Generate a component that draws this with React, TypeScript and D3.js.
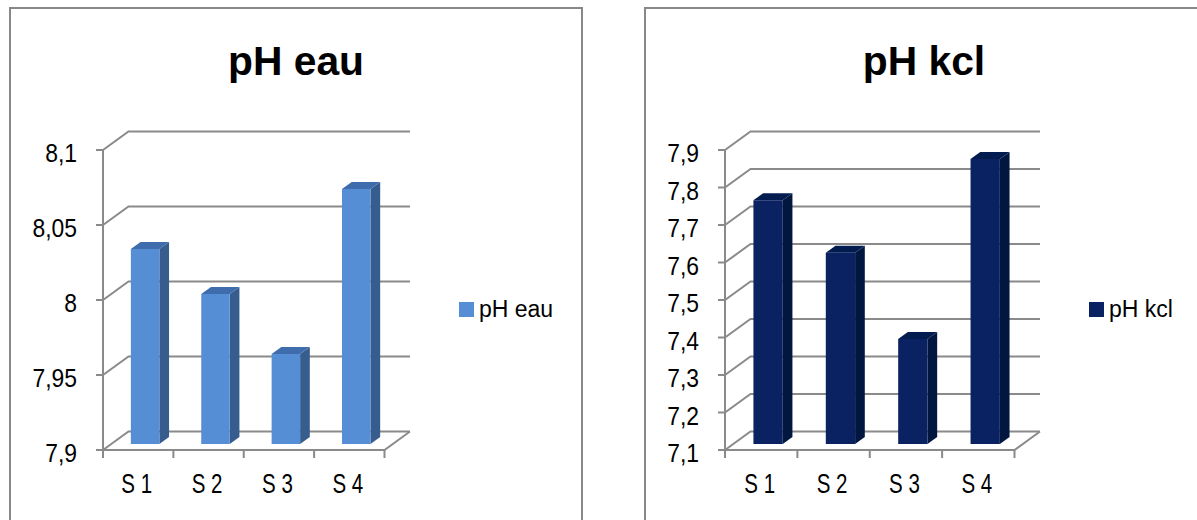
import React from "react";
import * as d3 from "d3";

// Sample sites shared by both charts
const categories = ["S 1", "S 2", "S 3", "S 4"];

// pH measured in water
const phEauValues = [8.03, 8.0, 7.96, 8.07];
const phEauTicks = [7.9, 7.95, 8.0, 8.05, 8.1];

// pH measured in KCl solution
const phKclValues = [7.75, 7.61, 7.38, 7.86];
const phKclTicks = [7.1, 7.2, 7.3, 7.4, 7.5, 7.6, 7.7, 7.8, 7.9];

const fmt = (v: number) => {
  const s = String(+v.toFixed(2));
  return s.replace(".", ",");
};

const FONT = "'Liberation Sans', Arial, sans-serif";
const GRID = "#8a8a8a";
const DX = 25.5; // depth offset of the back wall
const DY = 18.5;
const Z1 = 0.32; // bar front face depth
const Z2 = 0.7; // bar back face depth

type ChartProps = {
  title: string;
  legend: string;
  values: number[];
  ticks: number[];
  domain: [number, number];
  boxX: number;
  boxW: number;
  axisX: number;
  plotW: number;
  legendX: number;
  front: string;
  side: string;
  top: string;
};

function Bar3DChart(p: ChartProps) {
  const yTop = 150;
  const yBot = 450;
  const y = d3.scaleLinear().domain(p.domain).range([yBot, yTop]);
  const x = d3
    .scaleBand<string>()
    .domain(categories)
    .range([p.axisX, p.axisX + p.plotW])
    .padding(0);
  const step = x.step();
  const x1 = p.axisX + p.plotW;
  const barW = step * 0.405;
  const pt = (px: number, py: number, z: number) => [px + z * DX, py - z * DY];
  const poly = (pts: number[][]) => pts.map((q) => q.join(",")).join(" ");
  const boundaries = d3.range(categories.length + 1).map((i) => p.axisX + i * step);

  return (
    <g>
      <rect x={p.boxX} y={8} width={p.boxW} height={540} fill="#fff" stroke="#888" strokeWidth={2} />
      <text
        transform={`translate(${p.boxX + p.boxW / 2},75) scale(1.02,1)`}
        textAnchor="middle"
        fontFamily={FONT}
        fontWeight="bold"
        fontSize={40}
        fill="#000"
      >
        {p.title}
      </text>

      {/* gridlines: tick, wall diagonal and back wall line */}
      {p.ticks.map((t) => {
        const yy = y(t);
        const [bx, by] = pt(p.axisX, yy, 1);
        const [ex] = pt(x1, yy, 1);
        return (
          <g key={t}>
            <line x1={p.axisX - 7} y1={yy} x2={p.axisX} y2={yy} stroke={GRID} strokeWidth={2} />
            <polyline points={poly([[p.axisX, yy], [bx, by], [ex, by]])} fill="none" stroke={GRID} strokeWidth={2} />
            <text
              transform={`translate(${p.axisX - 26},${yy + 12}) scale(0.88,1)`}
              textAnchor="end"
              fontFamily={FONT}
              fontSize={26}
              fill="#000"
            >
              {fmt(t)}
            </text>
          </g>
        );
      })}

      {/* vertical value axis and floor */}
      <line x1={p.axisX} y1={yTop} x2={p.axisX} y2={yBot} stroke={GRID} strokeWidth={2} />
      <polyline
        points={poly([[p.axisX, yBot], [x1, yBot], pt(x1, yBot, 1)])}
        fill="none"
        stroke={GRID}
        strokeWidth={2}
      />
      {boundaries.map((bx, i) => (
        <line key={i} x1={bx} y1={yBot} x2={bx} y2={yBot + 8} stroke={GRID} strokeWidth={2} />
      ))}

      {/* bars */}
      {categories.map((c, i) => {
        const l = (x(c) as number) + step * 0.28;
        const r = l + barW;
        const vy = y(p.values[i]);
        const fTL = pt(l, vy, Z1);
        const fTR = pt(r, vy, Z1);
        const fBR = pt(r, yBot, Z1);
        const fBL = pt(l, yBot, Z1);
        const bTL = pt(l, vy, Z2);
        const bTR = pt(r, vy, Z2);
        const bBR = pt(r, yBot, Z2);
        return (
          <g key={c}>
            <polygon points={poly([fTR, bTR, bBR, fBR])} fill={p.side} />
            <polygon points={poly([fTL, bTL, bTR, fTR])} fill={p.top} />
            <polygon points={poly([fTL, fTR, fBR, fBL])} fill={p.front} />
          </g>
        );
      })}

      {/* category labels */}
      {categories.map((c) => {
        const cx = (x(c) as number) + step / 2 - 1.5;
        return (
          <text
            key={c}
            transform={`translate(${cx},493) scale(0.76,1)`}
            textAnchor="middle"
            fontFamily={FONT}
            fontSize={27}
            fill="#000"
          >
            {c}
          </text>
        );
      })}

      {/* legend */}
      <rect x={p.legendX} y={302} width={15} height={15} fill={p.front} />
      <text x={p.legendX + 20} y={317} fontFamily={FONT} fontSize={23} fill="#000">
        {p.legend}
      </text>
    </g>
  );
}

export default function App() {
  return (
    <svg
      width={1197}
      height={520}
      style={{ position: "absolute", left: 0, top: 0, background: "#fff" }}
    >
      <Bar3DChart
        title="pH eau"
        legend="pH eau"
        values={phEauValues}
        ticks={phEauTicks}
        domain={[7.9, 8.1]}
        boxX={10}
        boxW={572}
        axisX={103}
        plotW={281.5}
        legendX={459}
        front="#558ed5"
        side="#375d8f"
        top="#3f6cad"
      />
      <Bar3DChart
        title="pH kcl"
        legend="pH kcl"
        values={phKclValues}
        ticks={phKclTicks}
        domain={[7.1, 7.9]}
        boxX={645}
        boxW={558}
        axisX={725}
        plotW={289.5}
        legendX={1089}
        front="#0b2262"
        side="#02173f"
        top="#031c4f"
      />
    </svg>
  );
}
